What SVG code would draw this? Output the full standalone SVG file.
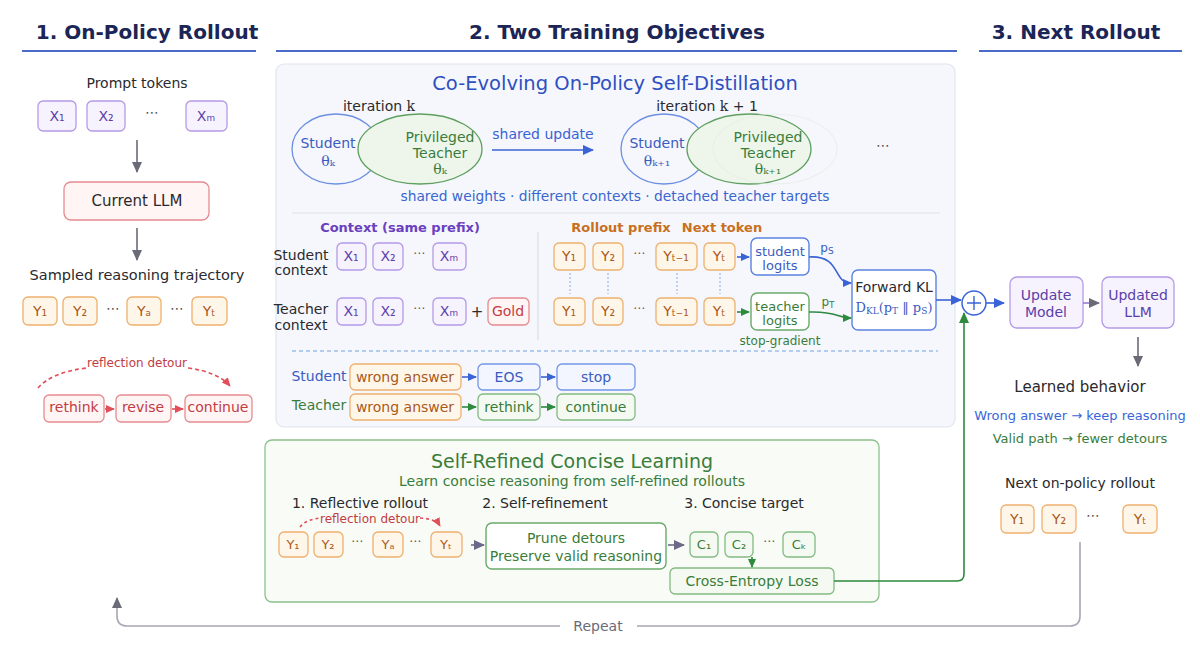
<svg xmlns="http://www.w3.org/2000/svg" width="1200" height="666" viewBox="0 0 1200 666">
<style>
text{font-family:"DejaVu Sans","Liberation Sans",sans-serif;text-anchor:middle;fill:#2a2a2e}
.h{font-size:20px;font-weight:bold;fill:#1b2556}
.t14{font-size:14px}
.t13{font-size:13px}
.t12{font-size:12px}
.tok{font-size:14px}
.serif{font-family:"DejaVu Serif","Liberation Serif",serif}
.rp{fill:#f6f2fe;stroke:#b49ae6;stroke-width:1.3}
.ro{fill:#fff6ea;stroke:#eeb06e;stroke-width:1.3}
.rr{fill:#fff5f5;stroke:#e58b90;stroke-width:1.3}
.rg{fill:#f4faf1;stroke:#82ba82;stroke-width:1.3}
.rb{fill:#f3f6ff;stroke:#7396e6;stroke-width:1.3}
.rbw{fill:#ffffff;stroke:#5b82e0;stroke-width:1.4}
.rgw{fill:#ffffff;stroke:#6aaa6a;stroke-width:1.4}
.cp{fill:#5b3fa8}.co{fill:#a85a1c}.cr{fill:#c23c44}.cg{fill:#3a7d3a}.cb{fill:#3a5cc0}
.line{fill:none;stroke-width:1.6}
</style>
<defs>
<marker id="aGray" markerUnits="userSpaceOnUse" markerWidth="12" markerHeight="12" refX="10" refY="6" orient="auto"><path d="M0,1 L11,6 L0,11 z" fill="#6b6b78"/></marker>
<marker id="aBlue" markerUnits="userSpaceOnUse" markerWidth="12" markerHeight="12" refX="10" refY="6" orient="auto"><path d="M0,1 L11,6 L0,11 z" fill="#3a63d8"/></marker>
<marker id="aBlueS" markerUnits="userSpaceOnUse" markerWidth="10" markerHeight="10" refX="8" refY="5" orient="auto"><path d="M0,1 L9,5 L0,9 z" fill="#3a63d8"/></marker>
<marker id="aGreen" markerUnits="userSpaceOnUse" markerWidth="12" markerHeight="12" refX="10" refY="6" orient="auto"><path d="M0,1 L11,6 L0,11 z" fill="#2e8a3e"/></marker>
<marker id="aGreenS" markerUnits="userSpaceOnUse" markerWidth="10" markerHeight="10" refX="8" refY="5" orient="auto"><path d="M0,1 L9,5 L0,9 z" fill="#2e8a3e"/></marker>
<marker id="aRed" markerUnits="userSpaceOnUse" markerWidth="10" markerHeight="10" refX="8" refY="5" orient="auto"><path d="M0,1 L9,5 L0,9 z" fill="#e0505a"/></marker>
<marker id="aPur" markerUnits="userSpaceOnUse" markerWidth="12" markerHeight="12" refX="10" refY="6" orient="auto"><path d="M0,1 L11,6 L0,11 z" fill="#6a6a88"/></marker>
</defs>
<rect width="1200" height="666" fill="#ffffff"/>

<!-- Headers -->
<g id="headers">
<text class="h" x="147" y="39">1. On-Policy Rollout</text>
<line x1="22" y1="51" x2="256" y2="51" stroke="#4a6bc9" stroke-width="2"/>
<text class="h" x="617" y="39">2. Two Training Objectives</text>
<line x1="276" y1="51" x2="957" y2="51" stroke="#4a6bc9" stroke-width="2"/>
<text class="h" x="1076" y="39">3. Next Rollout</text>
<line x1="979" y1="51" x2="1182" y2="51" stroke="#4a6bc9" stroke-width="2"/>
</g>

<!-- Panels -->
<g id="panel-distill">
<rect x="276" y="64" width="679" height="363" rx="8" fill="#f5f7fc" stroke="#dfe4ee" stroke-width="1.2"/>
<text x="615" y="90" style="font-size:19.5px;fill:#2f4fc0">Co-Evolving On-Policy Self-Distillation</text>
<line x1="292" y1="213" x2="940" y2="213" stroke="#dde2ea" stroke-width="1.2"/>
<line x1="538" y1="232" x2="538" y2="340" stroke="#d8dde6" stroke-width="1.2"/>
<line x1="292" y1="351" x2="938" y2="351" stroke="#9cc0ec" stroke-width="1.5" stroke-dasharray="4,3"/>
</g>
<g id="panel-concise">
<rect x="265" y="440" width="614" height="162" rx="7" fill="#f8fbf6" stroke="#8cc08c" stroke-width="1.3"/>
<text x="572" y="468" style="font-size:19px;fill:#3a7d3a">Self-Refined Concise Learning</text>
<text class="t14 cg" x="572" y="486">Learn concise reasoning from self-refined rollouts</text>
</g>

<!-- Column 1 -->
<g id="prompt-tokens">
<text class="t14" x="137" y="88">Prompt tokens</text>
<rect class="rp" x="38" y="101" width="38" height="30" rx="5"/><text class="tok cp" x="57" y="121">X₁</text>
<rect class="rp" x="87" y="101" width="38" height="30" rx="5"/><text class="tok cp" x="106" y="121">X₂</text>
<text class="t14" x="152" y="117" style="fill:#555">⋯</text>
<rect class="rp" x="186" y="101" width="41" height="30" rx="5"/><text class="tok cp" x="206" y="121">Xₘ</text>
</g>
<g id="current-llm">
<rect class="rr" x="64" y="182" width="145" height="38" rx="7"/>
<text x="137" y="206" style="font-size:15px">Current LLM</text>
</g>
<g id="sampled-trajectory">
<text x="137" y="280" style="font-size:14.5px">Sampled reasoning trajectory</text>
<rect class="ro" x="23" y="297" width="34" height="28" rx="5"/><text class="tok co" x="40" y="316">Y₁</text>
<rect class="ro" x="63" y="297" width="34" height="28" rx="5"/><text class="tok co" x="80" y="316">Y₂</text>
<text class="t14" x="113" y="313" style="fill:#555">⋯</text>
<rect class="ro" x="127" y="297" width="34" height="28" rx="5"/><text class="tok co" x="144" y="316">Yₐ</text>
<text class="t14" x="177" y="313" style="fill:#555">⋯</text>
<rect class="ro" x="192" y="297" width="35" height="28" rx="5"/><text class="tok co" x="209" y="316">Yₜ</text>
</g>
<g id="reflection-detour">
<text class="t12 cr" x="137" y="367">reflection detour</text>
<rect class="rr" x="44" y="395" width="60" height="27" rx="5"/><text class="t14 cr" x="74" y="412">rethink</text>
<rect class="rr" x="116" y="395" width="55" height="27" rx="5"/><text class="t14 cr" x="143" y="412">revise</text>
<rect class="rr" x="185" y="395" width="67" height="27" rx="5"/><text class="t14 cr" x="218" y="412">continue</text>
</g>

<!-- Distillation: iterations -->
<g id="iteration-k">
<text class="t14" x="379" y="111">iteration <tspan class="serif">k</tspan></text>
<ellipse cx="336" cy="149" rx="44" ry="35" fill="#f5f7fc" stroke="#6d8fe0" stroke-width="1.3"/>
<ellipse cx="420" cy="149" rx="62" ry="35" fill="#eef6ec" stroke="#5f9f5f" stroke-width="1.3"/>
<text class="t14 cb" x="328" y="148">Student</text>
<text class="t14 cb serif" x="328" y="166">θₖ</text>
<text class="t14 cg" x="440" y="142">Privileged</text>
<text class="t14 cg" x="440" y="158">Teacher</text>
<text class="t14 cg serif" x="440" y="174">θₖ</text>
</g>
<g id="iteration-k1">
<text class="t14" x="707" y="111">iteration <tspan class="serif">k</tspan> + 1</text>
<ellipse cx="664" cy="149" rx="43" ry="35" fill="#f5f7fc" stroke="#6d8fe0" stroke-width="1.3"/>
<ellipse cx="749" cy="149" rx="62" ry="35" fill="#eef6ec" stroke="#5f9f5f" stroke-width="1.3"/>
<ellipse cx="775" cy="149" rx="62" ry="35" fill="none" stroke="#e4e9e2" stroke-width="1.1" opacity="0.6"/>
<text class="t14 cb" x="657" y="148">Student</text>
<text class="t14 cb serif" x="657" y="166">θₖ₊₁</text>
<text class="t14 cg" x="768" y="142">Privileged</text>
<text class="t14 cg" x="768" y="158">Teacher</text>
<text class="t14 cg serif" x="768" y="174">θₖ₊₁</text>
<text class="t14" x="883" y="150" style="fill:#555">⋯</text>
</g>
<g id="shared-labels">
<text class="t14" x="543" y="139" style="fill:#3a63d8">shared update</text>
<text x="615" y="201" style="font-size:13.8px;fill:#3a66d0">shared weights · different contexts · detached teacher targets</text>
</g>

<!-- Context -->
<g id="context">
<text class="t13" x="400" y="232" style="font-weight:bold;fill:#6a40c0">Context (same prefix)</text>
<text class="t14" x="301" y="260">Student</text><text class="t14" x="301" y="275">context</text>
<rect class="rp" x="337" y="243" width="29" height="27" rx="5"/><text class="tok cp" x="351" y="261">X₁</text>
<rect class="rp" x="373" y="243" width="30" height="27" rx="5"/><text class="tok cp" x="388" y="261">X₂</text>
<text class="t12" x="419" y="257" style="fill:#555">⋯</text>
<rect class="rp" x="433" y="243" width="33" height="27" rx="5"/><text class="tok cp" x="449" y="261">Xₘ</text>
<text class="t14" x="301" y="314">Teacher</text><text class="t14" x="301" y="330">context</text>
<rect class="rp" x="337" y="298" width="29" height="27" rx="5"/><text class="tok cp" x="351" y="316">X₁</text>
<rect class="rp" x="373" y="298" width="30" height="27" rx="5"/><text class="tok cp" x="388" y="316">X₂</text>
<text class="t12" x="419" y="312" style="fill:#555">⋯</text>
<rect class="rp" x="433" y="298" width="33" height="27" rx="5"/><text class="tok cp" x="449" y="316">Xₘ</text>
<text x="477" y="317" style="font-size:15px">+</text>
<rect class="rr" x="488" y="298" width="41" height="27" rx="5"/><text class="tok cr" x="508" y="316">Gold</text>
</g>

<!-- Rollout prefix -->
<g id="rollout-prefix">
<text class="t13" x="621" y="232" style="font-weight:bold;fill:#c8701e">Rollout prefix</text>
<text class="t13" x="722" y="232" style="font-weight:bold;fill:#c8701e">Next token</text>
<rect class="ro" x="554" y="243" width="31" height="27" rx="5"/><text class="tok co" x="569" y="261">Y₁</text>
<rect class="ro" x="593" y="243" width="30" height="27" rx="5"/><text class="tok co" x="608" y="261">Y₂</text>
<text class="t12" x="639" y="257" style="fill:#555">⋯</text>
<rect class="ro" x="656" y="243" width="41" height="27" rx="5"/><text class="tok co" x="676" y="261">Yₜ₋₁</text>
<rect class="ro" x="704" y="243" width="31" height="27" rx="5"/><text class="tok co" x="719" y="261">Yₜ</text>
<rect class="ro" x="554" y="298" width="31" height="27" rx="5"/><text class="tok co" x="569" y="316">Y₁</text>
<rect class="ro" x="593" y="298" width="30" height="27" rx="5"/><text class="tok co" x="608" y="316">Y₂</text>
<text class="t12" x="639" y="312" style="fill:#555">⋯</text>
<rect class="ro" x="656" y="298" width="41" height="27" rx="5"/><text class="tok co" x="676" y="316">Yₜ₋₁</text>
<rect class="ro" x="704" y="298" width="31" height="27" rx="5"/><text class="tok co" x="719" y="316">Yₜ</text>
<g stroke="#9cb8e8" stroke-width="1.2" stroke-dasharray="2,2">
<line x1="570" y1="273" x2="570" y2="294"/><line x1="608" y1="273" x2="608" y2="294"/>
<line x1="677" y1="273" x2="677" y2="294"/><line x1="720" y1="273" x2="720" y2="294"/>
</g>
</g>
<g id="student-logits">
<rect class="rbw" x="751" y="238" width="58" height="37" rx="6"/>
<text class="t13 cb" x="780" y="256">student</text><text class="t13 cb" x="780" y="270">logits</text>
</g>
<g id="teacher-logits">
<rect class="rgw" x="751" y="293" width="58" height="37" rx="6"/>
<text class="t13 cg" x="780" y="311">teacher</text><text class="t13 cg" x="780" y="325">logits</text>
<text class="t12 cg" x="780" y="345">stop-gradient</text>
</g>
<g id="forward-kl">
<rect class="rbw" x="852" y="270" width="84" height="60" rx="6"/>
<text x="894" y="292" style="font-size:14px">Forward KL</text>
<text class="serif cb" x="894" y="312" style="font-size:13px">D<tspan style="font-size:9px" dy="2">KL</tspan><tspan dy="-2">(p</tspan><tspan style="font-size:9px" dy="2">T</tspan><tspan dy="-2"> ‖ p</tspan><tspan style="font-size:9px" dy="2">S</tspan><tspan dy="-2">)</tspan></text>
</g>

<!-- Behaviour rows -->
<g id="behaviour-rows">
<text class="t14 cb" x="319" y="381">Student</text>
<rect class="ro" x="350" y="364" width="111" height="26" rx="5"/><text class="t14 co" x="405" y="382">wrong answer</text>
<rect class="rb" x="478" y="364" width="62" height="26" rx="5"/><text class="t14 cb" x="509" y="382">EOS</text>
<rect class="rb" x="557" y="364" width="78" height="26" rx="5"/><text class="t14 cb" x="596" y="382">stop</text>
<text class="t14 cg" x="319" y="410">Teacher</text>
<rect class="ro" x="350" y="394" width="111" height="26" rx="5"/><text class="t14 co" x="405" y="412">wrong answer</text>
<rect class="rg" x="478" y="394" width="62" height="26" rx="5"/><text class="t14 cg" x="509" y="412">rethink</text>
<rect class="rg" x="557" y="394" width="78" height="26" rx="5"/><text class="t14 cg" x="596" y="412">continue</text>
</g>

<!-- Concise learning -->
<g id="reflective-rollout">
<text class="t14" x="360" y="508">1. Reflective rollout</text>
<text class="t12 cr" x="370" y="523">reflection detour</text>
<rect class="ro" x="279" y="532" width="29" height="25" rx="5"/><text class="t13 co" x="293" y="549">Y₁</text>
<rect class="ro" x="314" y="532" width="29" height="25" rx="5"/><text class="t13 co" x="328" y="549">Y₂</text>
<text class="t12" x="357" y="545" style="fill:#555">⋯</text>
<rect class="ro" x="373" y="532" width="30" height="25" rx="5"/><text class="t13 co" x="388" y="549">Yₐ</text>
<text class="t12" x="415" y="545" style="fill:#555">⋯</text>
<rect class="ro" x="431" y="532" width="31" height="25" rx="5"/><text class="t13 co" x="446" y="549">Yₜ</text>
</g>
<g id="self-refinement">
<text class="t14" x="545" y="508">2. Self-refinement</text>
<rect class="rgw" x="486" y="523" width="180" height="46" rx="6"/>
<text class="t14 cg" x="576" y="543">Prune detours</text>
<text class="t14 cg" x="576" y="561">Preserve valid reasoning</text>
</g>
<g id="concise-target">
<text class="t14" x="744" y="508">3. Concise target</text>
<rect class="rg" x="690" y="532" width="28" height="25" rx="5"/><text class="t13 cg" x="704" y="549">C₁</text>
<rect class="rg" x="725" y="532" width="28" height="25" rx="5"/><text class="t13 cg" x="739" y="549">C₂</text>
<text class="t12" x="769" y="545" style="fill:#555">⋯</text>
<rect class="rg" x="783" y="532" width="32" height="25" rx="5"/><text class="t13 cg" x="799" y="549">Cₖ</text>
</g>
<g id="cross-entropy">
<rect class="rg" x="670" y="568" width="164" height="26" rx="5"/>
<text class="t14 cg" x="752" y="586">Cross-Entropy Loss</text>
</g>

<!-- Column 3 -->
<g id="sum-node">
<circle cx="974" cy="303" r="12" fill="#ffffff" stroke="#3a63d8" stroke-width="1.5"/>
<path d="M967,303 H981 M974,296 V310" stroke="#3a63d8" stroke-width="1.4"/>
</g>
<g id="update-model">
<rect class="rp" x="1010" y="277" width="73" height="51" rx="7"/>
<text class="t14 cp" x="1046" y="300">Update</text><text class="t14 cp" x="1046" y="317">Model</text>
</g>
<g id="updated-llm">
<rect class="rp" x="1102" y="277" width="72" height="51" rx="7"/>
<text class="t14 cp" x="1138" y="300">Updated</text><text class="t14 cp" x="1138" y="317">LLM</text>
</g>
<g id="learned-behavior">
<text x="1080" y="392" style="font-size:15px">Learned behavior</text>
<text class="t13" x="1080" y="420" style="fill:#3a66d8">Wrong answer → keep reasoning</text>
<text class="t13 cg" x="1080" y="443">Valid path → fewer detours</text>
</g>
<g id="next-rollout">
<text class="t14" x="1080" y="488">Next on-policy rollout</text>
<rect class="ro" x="1001" y="505" width="33" height="28" rx="5"/><text class="tok co" x="1017" y="524">Y₁</text>
<rect class="ro" x="1042" y="505" width="34" height="28" rx="5"/><text class="tok co" x="1059" y="524">Y₂</text>
<text class="t14" x="1093" y="520" style="fill:#555">⋯</text>
<rect class="ro" x="1123" y="505" width="34" height="28" rx="5"/><text class="tok co" x="1140" y="524">Yₜ</text>
</g>

<!-- Connectors -->
<g id="connectors">
<line class="line" x1="137" y1="140" x2="137" y2="172" stroke="#6b6b78" marker-end="url(#aGray)"/>
<line class="line" x1="137" y1="228" x2="137" y2="260" stroke="#6b6b78" marker-end="url(#aGray)"/>
<path class="line" d="M38,388 Q52,372 87,368" stroke="#e0505a" stroke-width="1.3" stroke-dasharray="4,3"/>
<path class="line" d="M188,368 Q218,372 230,386" stroke="#e0505a" stroke-width="1.3" stroke-dasharray="4,3" marker-end="url(#aRed)"/>
<line class="line" x1="105" y1="409" x2="114" y2="409" stroke="#e0505a" stroke-width="1.3" marker-end="url(#aRed)"/>
<line class="line" x1="172" y1="409" x2="183" y2="409" stroke="#e0505a" stroke-width="1.3" marker-end="url(#aRed)"/>
<line class="line" x1="492" y1="150" x2="593" y2="150" stroke="#3a63d8" marker-end="url(#aBlue)"/>
<line class="line" x1="737" y1="257" x2="749" y2="257" stroke="#3a63d8" stroke-width="1.4" marker-end="url(#aBlueS)"/>
<line class="line" x1="737" y1="312" x2="749" y2="312" stroke="#2e8a3e" stroke-width="1.4" marker-end="url(#aGreenS)"/>
<path class="line" d="M809,257 C842,255 832,283 851,283" stroke="#3a63d8" marker-end="url(#aBlueS)"/>
<path class="line" d="M809,312 C838,311 836,318 851,318" stroke="#2e8a3e" marker-end="url(#aGreenS)"/>
<line class="line" x1="936" y1="300" x2="961" y2="300" stroke="#3a63d8" marker-end="url(#aBlue)"/>
<line class="line" x1="462" y1="377" x2="476" y2="377" stroke="#3a63d8" stroke-width="1.3" marker-end="url(#aBlueS)"/>
<line class="line" x1="541" y1="377" x2="555" y2="377" stroke="#3a63d8" stroke-width="1.3" marker-end="url(#aBlueS)"/>
<line class="line" x1="462" y1="407" x2="476" y2="407" stroke="#2e8a3e" stroke-width="1.3" marker-end="url(#aGreenS)"/>
<line class="line" x1="541" y1="407" x2="555" y2="407" stroke="#2e8a3e" stroke-width="1.3" marker-end="url(#aGreenS)"/>
<path class="line" d="M300,527 Q306,519 322,518" stroke="#e0505a" stroke-width="1.2" stroke-dasharray="3,3"/>
<path class="line" d="M420,518 Q436,519 440,526" stroke="#e0505a" stroke-width="1.2" stroke-dasharray="3,3" marker-end="url(#aRed)"/>
<line class="line" x1="471" y1="545" x2="484" y2="545" stroke="#6a6a88" marker-end="url(#aPur)"/>
<line class="line" x1="668" y1="545" x2="684" y2="545" stroke="#6a6a88" marker-end="url(#aPur)"/>
<line class="line" x1="752" y1="557" x2="752" y2="567" stroke="#2e8a3e" stroke-width="1.3" marker-end="url(#aGreenS)"/>
<path class="line" d="M834,581 H957 Q964,581 964,574 V313" stroke="#2e8a3e" marker-end="url(#aGreen)"/>
<line class="line" x1="986" y1="303" x2="1004" y2="303" stroke="#3a63d8" marker-end="url(#aBlue)"/>
<line class="line" x1="1083" y1="303" x2="1099" y2="303" stroke="#9a7ad0" marker-end="url(#aGray)"/>
<line class="line" x1="1138" y1="337" x2="1138" y2="366" stroke="#6b6b78" marker-end="url(#aGray)"/>
<path class="line" d="M1080,542 V616 Q1080,626 1070,626 H637 M560,626 H127 Q117,626 117,616 V598" stroke="#a8a8b6" stroke-width="1.8" marker-end="url(#aGray)"/>
<text class="t14" x="598" y="631" style="fill:#6b6b78">Repeat</text>
<text class="t12 cb" x="827" y="252">p<tspan style="font-size:9px" dy="2">S</tspan></text>
<text class="t12 cg" x="828" y="306">p<tspan style="font-size:9px" dy="2">T</tspan></text>
</g>
</svg>
